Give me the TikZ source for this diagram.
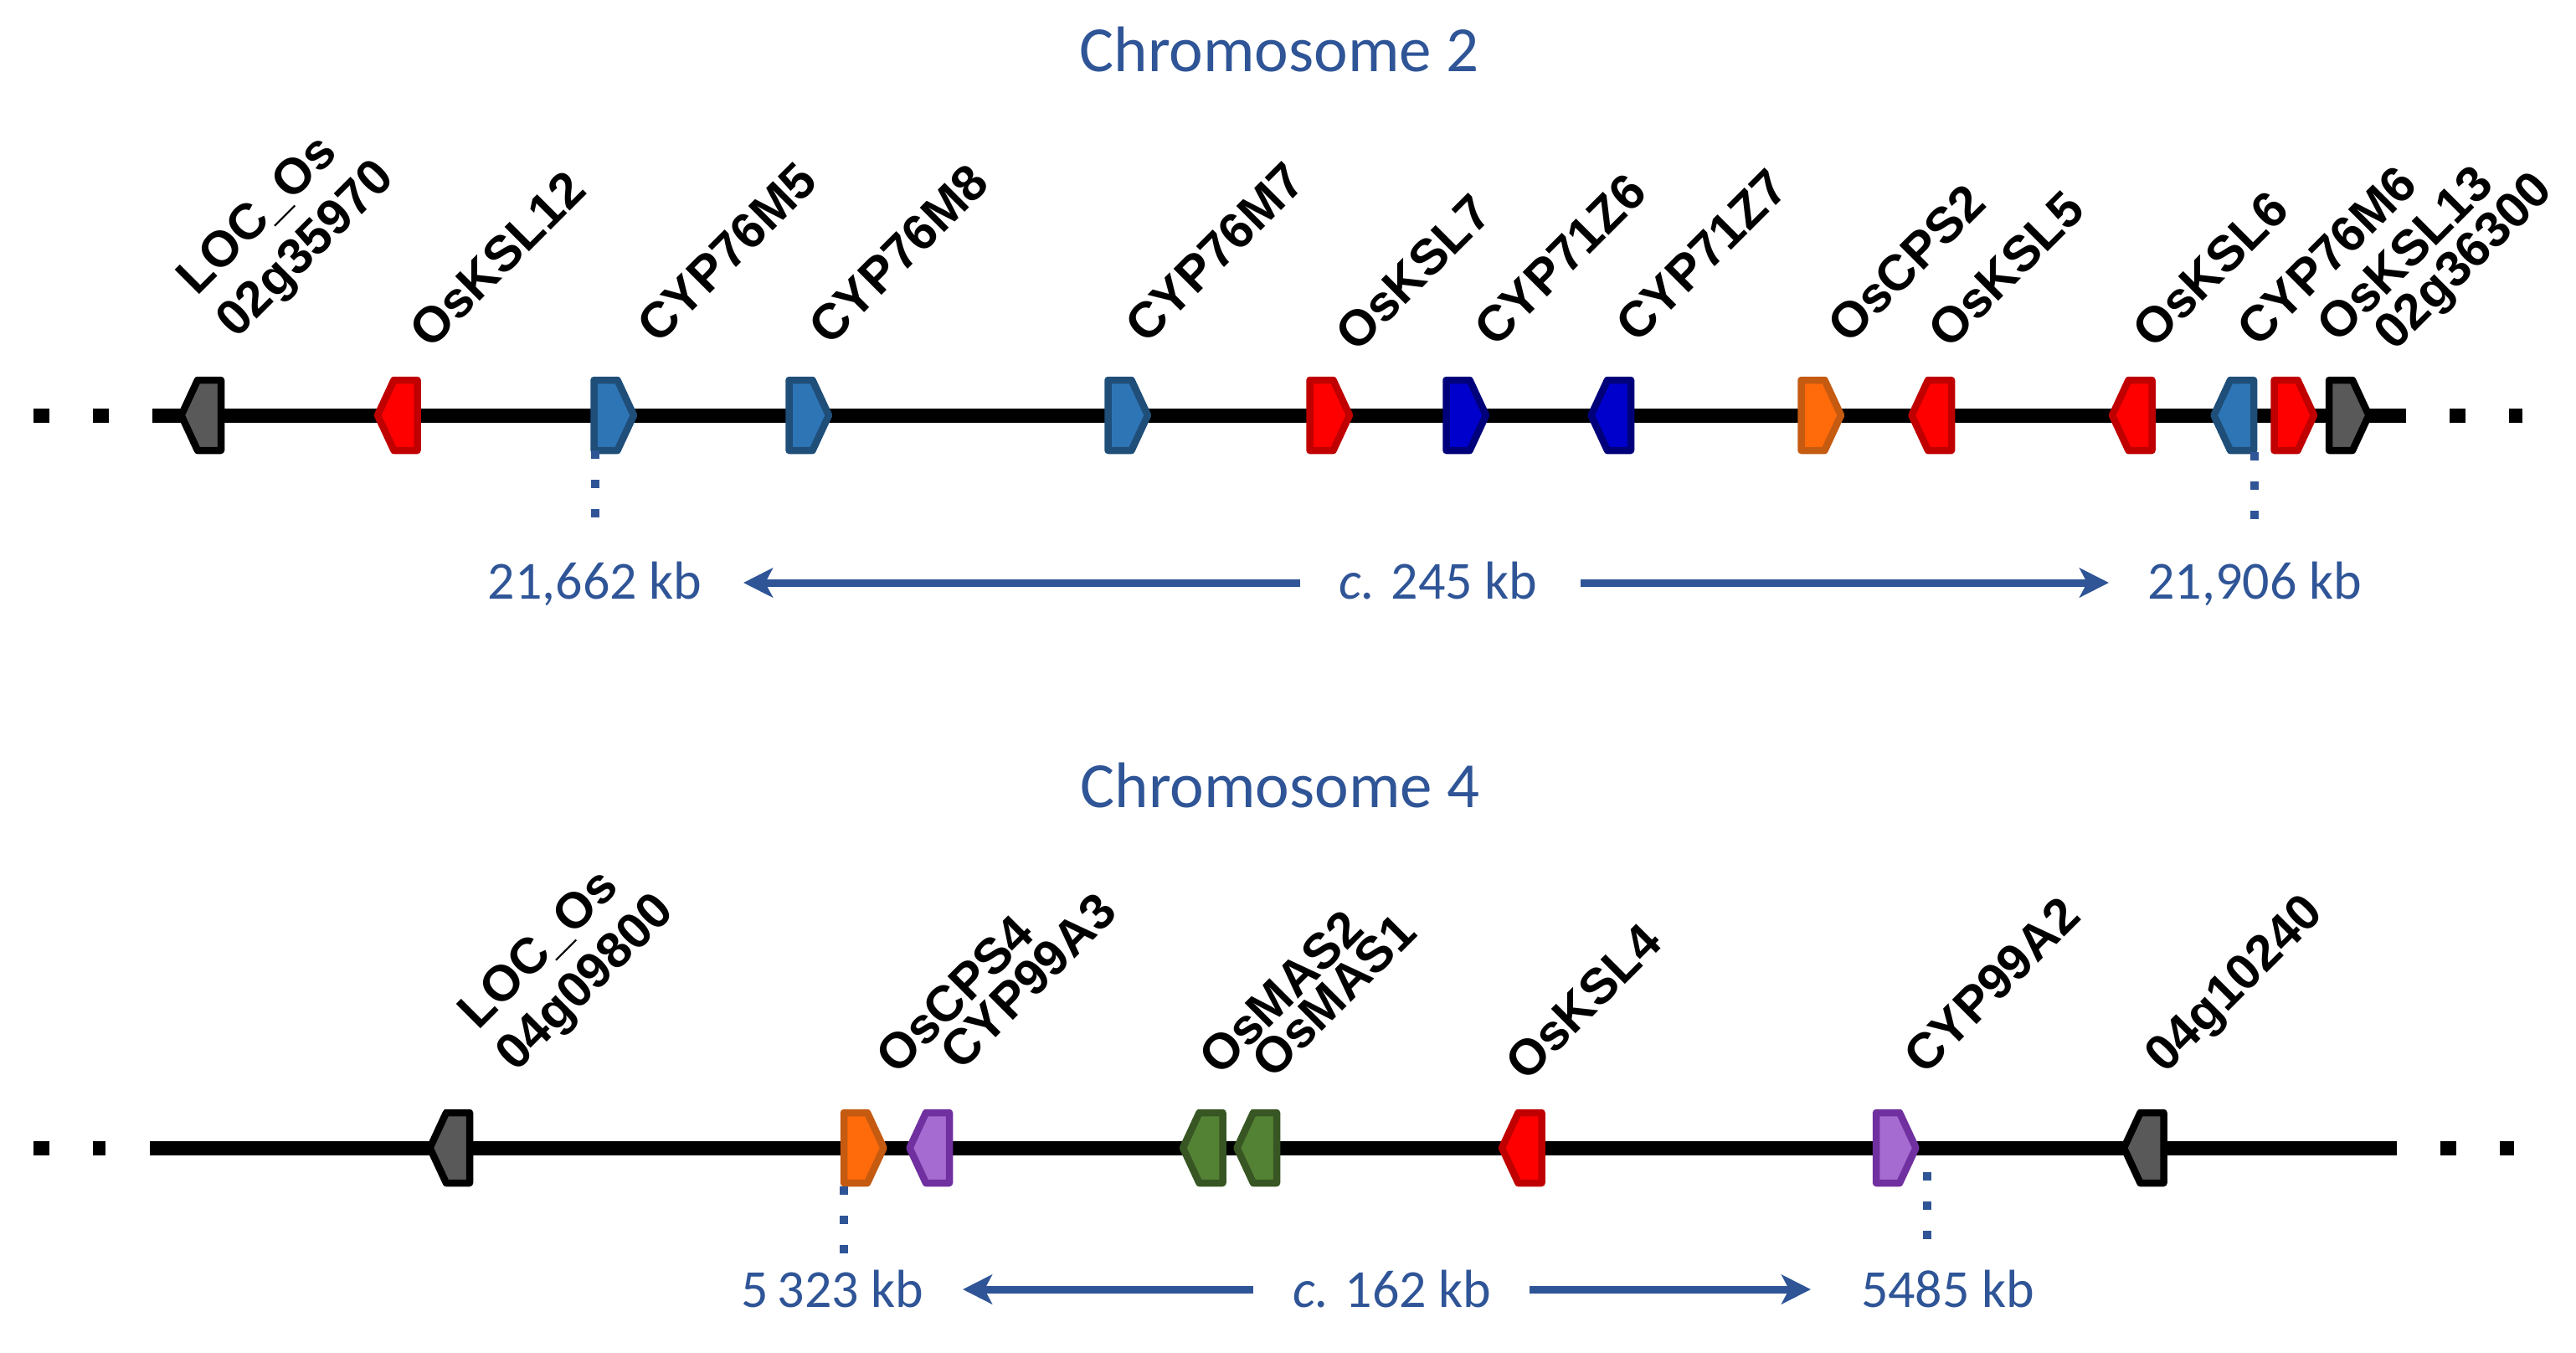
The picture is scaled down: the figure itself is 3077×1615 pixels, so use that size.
\documentclass[tikz,border=0pt]{standalone}
\usepackage{fontspec}
\setmainfont{Liberation Sans}
\newfontfamily\calib{Carlito}
\usetikzlibrary{arrows.meta}
\definecolor{txtblue}{HTML}{2F5597}
\definecolor{grayF}{HTML}{595959}
\definecolor{redF}{HTML}{FF0000}
\definecolor{redD}{HTML}{C00000}
\definecolor{blueF}{HTML}{2E75B6}
\definecolor{blueD}{HTML}{1F4E79}
\definecolor{dblueF}{HTML}{0000CC}
\definecolor{dblueD}{HTML}{00007A}
\definecolor{orangeF}{HTML}{FF6A0A}
\definecolor{orangeD}{HTML}{C55A11}
\definecolor{purpleF}{HTML}{A66BD1}
\definecolor{purpleD}{HTML}{7030A0}
\definecolor{greenF}{HTML}{548235}
\definecolor{greenD}{HTML}{375623}
\newcommand{\geneRt}[4]{\draw[genebox,fill=#3,draw=#4] ({#1-24},{#2-42}) -- ({#1+4},{#2-42}) -- ({#1+23.5},#2) -- ({#1+4},{#2+42}) -- ({#1-24},{#2+42}) -- cycle;}
\newcommand{\geneLt}[4]{\draw[genebox,fill=#3,draw=#4] ({#1+24},{#2-42}) -- ({#1-4},{#2-42}) -- ({#1-23.5},#2) -- ({#1-4},{#2+42}) -- ({#1+24},{#2+42}) -- cycle;}
\begin{document}
\begin{tikzpicture}[x=1pt,y=-1pt,
  genelbl/.style={font=\fontsize{60}{68}\selectfont\bfseries, rotate=45, anchor=base west, inner sep=0pt},
  titlestyle/.style={font=\calib\fontsize{77}{90}\selectfont, text=txtblue, inner sep=0pt},
  kbstyle/.style={font=\calib\fontsize{64}{76}\selectfont, text=txtblue, inner sep=0pt, anchor=base},
  chrom/.style={line width=17pt},
  chromdots/.style={line width=17pt, dash pattern=on 19pt off 52pt},
  ticksty/.style={draw=txtblue, line width=10pt, dash pattern=on 10pt off 25pt},
  kbarrow/.style={draw=txtblue, line width=9pt, -{Stealth[length=35pt,width=35pt,inset=9pt]}},
  genebox/.style={line width=8.5pt, line join=round}]
\useasboundingbox (0,0) rectangle (3077,1615);

% ---------------- Chromosome 2 ----------------
\node[titlestyle] (title2) at (1528,59) {Chromosome 2};
\draw[chromdots] (40,496) -- (131,496);
\draw[chrom] (182,496) -- (2874,496);
\draw[chromdots] (2926,496) -- (3013,496);

\geneLt{240}{496}{grayF}{black}
\geneLt{474.5}{496}{redF}{redD}
\geneRt{733.5}{496}{blueF}{blueD}
\geneRt{966.5}{496}{blueF}{blueD}
\geneRt{1347.5}{496}{blueF}{blueD}
\geneRt{1588.5}{496}{redF}{redD}
\geneRt{1751.5}{496}{dblueF}{dblueD}
\geneLt{1924}{496}{dblueF}{dblueD}
\geneRt{2175.5}{496}{orangeF}{orangeD}
\geneLt{2307}{496}{redF}{redD}
\geneLt{2546.5}{496}{redF}{redD}
\geneLt{2668}{496}{blueF}{blueD}
\geneRt{2740.5}{496}{redF}{redD}
\geneRt{2806}{496}{grayF}{black}

\node[genelbl] (l2a) at (235,355) {LOC\_Os};
\node[genelbl] (l2b) at (282,406) {02g35970};
\node[genelbl] (l2c) at (514,419) {OsKSL12};
\node[genelbl] (l2d) at (786,413) {CYP76M5};
\node[genelbl] (l2e) at (991,415) {CYP76M8};
\node[genelbl] (l2f) at (1369,413) {CYP76M7};
\node[genelbl] (l2g) at (1620,423) {OsKSL7};
\node[genelbl] (l2h) at (1786,417) {CYP71Z6};
\node[genelbl] (l2i) at (1955,412) {CYP71Z7};
\node[genelbl] (l2j) at (2208,413) {OsCPS2};
\node[genelbl] (l2k) at (2328,419) {OsKSL5};
\node[genelbl] (l2l) at (2572,419) {OsKSL6};
\node[genelbl] (l2m) at (2697,417) {CYP76M6};
\node[genelbl] (l2n) at (2792,412) {OsKSL13};
\node[genelbl] (l2o) at (2860,421) {02g36300};

\coordinate (tk2a) at (711,538);
\coordinate (tk2b) at (711,620);
\coordinate (tk2c) at (2693,540);
\coordinate (tk2d) at (2693,622);
\draw[ticksty] (tk2a) -- (tk2b);
\draw[ticksty] (tk2c) -- (tk2d);

\node[kbstyle] (kb2l) at (710.5,715) {21,662 kb};
\node[kbstyle] (kb2c) at (1718,715) {\textit{c.} 245 kb};
\node[kbstyle] (kb2r) at (2693,715) {21,906 kb};
\coordinate (a2lt) at (1553,696);
\coordinate (a2lh) at (888,696);
\coordinate (a2rt) at (1888,696);
\coordinate (a2rh) at (2519,696);
\draw[kbarrow] (a2lt) -- (a2lh);
\draw[kbarrow] (a2rt) -- (a2rh);

% ---------------- Chromosome 4 ----------------
\node[titlestyle] (title4) at (1529,938) {Chromosome 4};
\draw[chromdots] (40,1371) -- (126,1371);
\draw[chrom] (179,1371) -- (2863,1371);
\draw[chromdots] (2915,1371) -- (3003,1371);

\geneLt{537}{1371}{grayF}{black}
\geneRt{1032}{1371}{orangeF}{orangeD}
\geneLt{1110}{1371}{purpleF}{purpleD}
\geneLt{1436.5}{1371}{greenF}{greenD}
\geneLt{1501}{1371}{greenF}{greenD}
\geneLt{1817.5}{1371}{redF}{redD}
\geneRt{2265}{1371}{purpleF}{purpleD}
\geneLt{2560.5}{1371}{grayF}{black}

\node[genelbl] (l4a) at (571,1232) {LOC\_Os};
\node[genelbl] (l4b) at (616,1282) {04g09800};
\node[genelbl] (l4c) at (1071,1286) {OsCPS4};
\node[genelbl] (l4d) at (1148,1281) {CYP99A3};
\node[genelbl] (l4e) at (1457,1287) {OsMAS2};
\node[genelbl] (l4f) at (1520,1291) {OsMAS1};
\node[genelbl] (l4g) at (1823,1294) {OsKSL4};
\node[genelbl] (l4h) at (2299,1286) {CYP99A2};
\node[genelbl] (l4i) at (2586,1284) {04g10240};

\coordinate (tk4a) at (1008,1417);
\coordinate (tk4b) at (1008,1499);
\coordinate (tk4c) at (2302,1400);
\coordinate (tk4d) at (2302,1482);
\draw[ticksty] (tk4a) -- (tk4b);
\draw[ticksty] (tk4c) -- (tk4d);

\node[kbstyle] (kb4l) at (994.5,1561) {5\,323 kb};
\node[kbstyle] (kb4c) at (1663,1561) {\textit{c.} 162 kb};
\node[kbstyle] (kb4r) at (2326.5,1561) {5485 kb};
\coordinate (a4lt) at (1497,1540);
\coordinate (a4lh) at (1150,1540);
\coordinate (a4rt) at (1827,1540);
\coordinate (a4rh) at (2163,1540);
\draw[kbarrow] (a4lt) -- (a4lh);
\draw[kbarrow] (a4rt) -- (a4rh);
\end{tikzpicture}
\end{document}
